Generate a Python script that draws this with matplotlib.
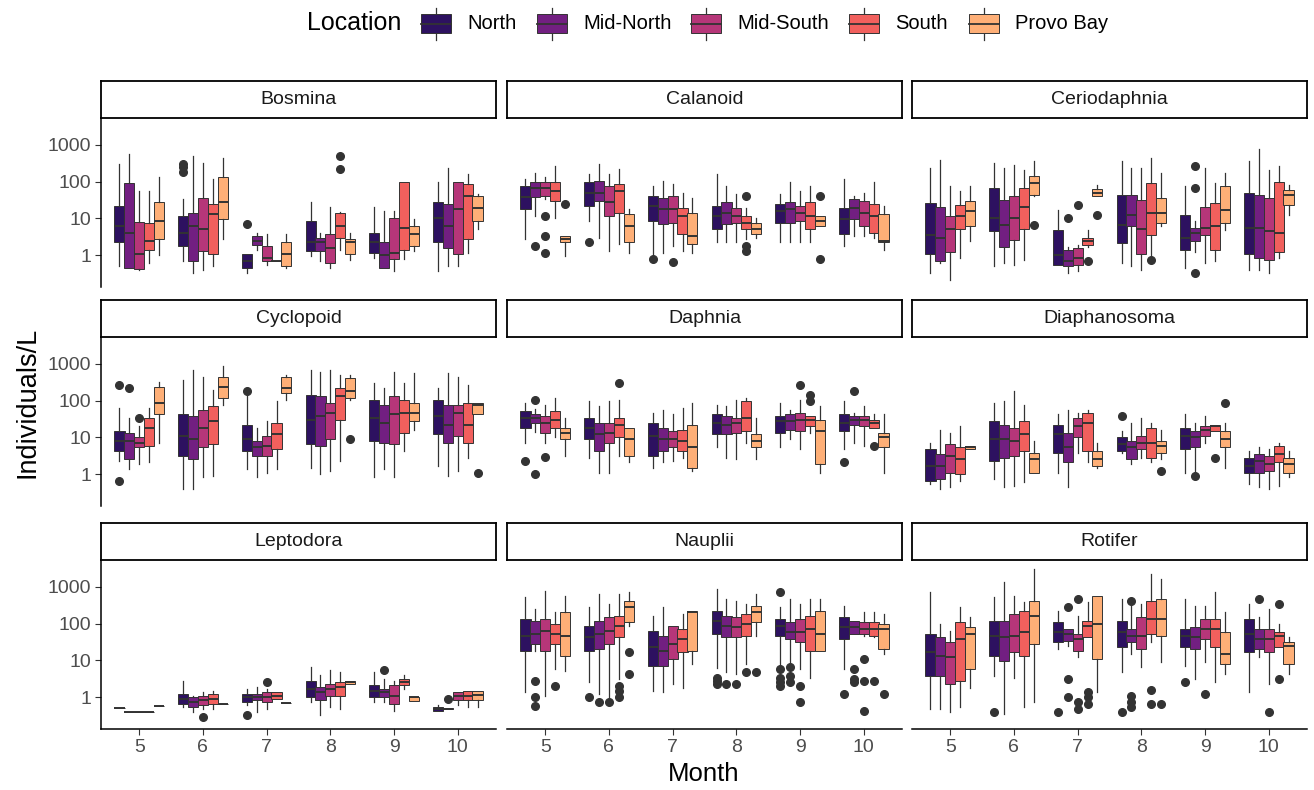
import matplotlib
matplotlib.use("Agg")
import matplotlib.pyplot as plt
from matplotlib.patches import Rectangle

plt.rcParams["font.family"] = ["Liberation Sans", "DejaVu Sans"]

MONTHS = [5, 6, 7, 8, 9, 10]
LOCATIONS = ["North", "Mid-North", "Mid-South", "South", "Provo Bay"]
COLORS = ["#2D1160", "#721F81", "#B63679", "#F1605D", "#FEAF77"]

# each month: one (lower whisker, q1, median, q3, upper whisker) per location
BOSMINA = [
    [(0.5, 2.2, 6, 22, 300), (0.45, 0.45, 4, 90, 550), (0.4, 0.43, 1.1, 8, 55), (0.6, 1.4, 2.4, 7.5, 55), (1, 2.7, 8.5, 28, 130)],
    [(0.7, 1.8, 4, 11.5, 33), (0.33, 0.7, 6, 14, 500), (0.4, 1.3, 5, 36, 330), (0.5, 1.05, 13, 24, 115), (2.7, 9.4, 27, 130, 450)],
    [(0.33, 0.45, 0.7, 1.05, 1.05), (1.4, 1.9, 2.4, 3.3, 4.1), (0.55, 0.7, 0.85, 1.8, 3.7), (0.7, 0.7, 0.7, 0.7, 0.7), (0.45, 0.5, 1.05, 2.2, 3.7)],
    [(0.95, 1.3, 2.2, 8.5, 27), (0.7, 1.3, 2.2, 3, 4), (0.45, 0.6, 1.6, 3.7, 20), (1.4, 3, 6, 14, 15), (0.75, 1.05, 2.2, 2.7, 4)],
    [(0.85, 1.15, 2.2, 4, 20), (0.45, 0.45, 1, 2.2, 16), (0.37, 0.76, 1.15, 10.4, 16), (0.76, 1.4, 5.5, 100, 100), (1.3, 1.75, 3.7, 6, 9.4)],
    [(0.37, 2.2, 10, 27, 95), (0.5, 1.6, 6, 24, 240), (0.5, 1.05, 17.5, 100, 100), (1.15, 2.7, 40, 85, 160), (5, 8.5, 19.5, 40, 45)],
]
BOSMINA_OUT = [(1, 0, 300), (1, 0, 250), (1, 0, 180), (2, 0, 6.8), (3, 3, 500), (3, 3, 215)]

CALANOID = [
    [(2.7, 17.6, 37, 76, 115), (11.6, 37, 68, 95, 175), (33, 40, 68, 95, 130), (10.4, 30, 55, 95, 265), (0.95, 2.2, 2.7, 3.3, 3.3)],
    [(8.5, 21.6, 50, 95, 160), (3, 30, 50, 105, 300), (1.3, 11.6, 27, 76, 160), (2, 14.3, 55, 85, 215), (1.15, 2.2, 6, 13, 17.6)],
    [(1.05, 8.5, 21.6, 40, 76), (1.15, 7, 17.6, 36, 105), (1.75, 7.7, 17.6, 40, 85), (1.3, 3.7, 11.6, 19.5, 50), (1.15, 2, 3.3, 14.3, 36)],
    [(2.2, 5, 11.6, 21.6, 160), (2.2, 7, 14.3, 27, 76), (2.2, 7.7, 11.6, 19.5, 45), (2.7, 5, 7.7, 11.6, 19.5), (3, 3.7, 5, 7.7, 10.4)],
    [(2.2, 7.7, 16, 24, 45), (2.2, 7.7, 17.6, 27, 95), (2.2, 8.5, 14.3, 21.6, 55), (2.2, 5, 11.6, 27, 76), (6, 6, 8.5, 11.6, 11.6)],
    [(1.75, 3.7, 9.4, 19.5, 115), (3.3, 9.4, 19.5, 33, 40), (3.3, 6, 14.3, 30, 50), (3, 4, 11.6, 24, 95), (1.4, 2.2, 2.4, 13, 21.6)],
]
CALANOID_OUT = [(0, 1, 1.75), (0, 2, 11.6), (0, 2, 3.3), (0, 2, 1.15), (0, 4, 24), (1, 0, 2.2), (2, 0, 0.76),
                (2, 2, 0.65), (3, 3, 40), (3, 3, 1.75), (3, 3, 1.3), (4, 4, 40), (4, 4, 0.76)]

CERIODAPHNIA = [
    [(0.32, 1.1, 3.6, 26, 235), (0.6, 0.67, 2.9, 21, 400), (0.21, 1.25, 5, 11.3, 74), (0.83, 5, 11.3, 23.6, 55), (2.4, 6, 15.5, 29, 74)],
    [(0.5, 4.4, 10.2, 67, 320), (0.6, 1.7, 6.7, 32, 235), (0.55, 2.6, 10.2, 40, 290), (0.75, 5, 21, 67, 210), (40, 44, 92, 140, 360)],
    [(0.55, 0.55, 1, 4.9, 17), (0.32, 0.5, 0.67, 1.4, 1.7), (0.36, 0.55, 0.83, 1.55, 1.9), (1.7, 1.9, 2.4, 2.9, 4.9), (40, 40, 49, 64, 83)],
    [(0.6, 2.1, 6.7, 44, 360), (0.5, 6, 12.6, 44, 235), (0.4, 1.1, 5, 32, 235), (1, 3.6, 14, 92, 440), (6, 7.5, 14, 36, 170)],
    [(0.44, 1.4, 2.9, 12.6, 74), (1.25, 2.4, 4, 5.5, 8.3), (0.6, 3.6, 5.5, 21, 235), (0.67, 1.4, 6, 26, 92), (4.9, 7.5, 17, 74, 170)],
    [(0.4, 1.1, 5.5, 49, 360), (0.4, 0.83, 5.5, 44, 750), (0.32, 0.75, 4.4, 36, 210), (0.83, 1.25, 4, 100, 260), (12.6, 23.6, 44, 60, 83)],
]
CERIODAPHNIA_OUT = [(1, 4, 6.7), (2, 1, 10), (2, 2, 23), (2, 3, 0.67), (2, 4, 12.6), (3, 3, 0.75),
                    (4, 1, 260), (4, 1, 67), (4, 1, 0.32)]

CYCLOPOID = [
    [(2.3, 4.3, 8, 15, 63), (1.4, 2.5, 8, 13.4, 34), (1.9, 5.3, 7.2, 10, 20), (2.1, 5.8, 18, 34, 63), (7.2, 42, 87, 240, 330)],
    [(0.39, 3.1, 10.8, 42, 370), (0.39, 2.5, 8.8, 38, 690), (0.81, 5.3, 18, 57, 450), (0.9, 6.5, 27, 70, 200), (78, 118, 240, 450, 850)],
    [(1.4, 4.3, 8.8, 22, 145), (0.81, 3.1, 5.3, 8, 18), (1.1, 3.1, 5.8, 11, 27), (1.4, 4.7, 12, 25, 96), (105, 160, 220, 450, 500)],
    [(1.5, 6.5, 30, 145, 690), (1, 5.8, 38, 130, 620), (1.2, 8.8, 46, 87, 690), (2.3, 30, 130, 220, 500), (105, 118, 180, 410, 500)],
    [(0.81, 8, 34, 105, 300), (1.4, 7.2, 25, 78, 220), (0.81, 6.5, 42, 130, 620), (4.3, 13.4, 46, 105, 300), (16, 27, 46, 87, 560)],
    [(1.7, 12, 38, 105, 220), (0.9, 7.2, 22, 78, 560), (1.2, 10.8, 46, 78, 450), (2.8, 7.2, 22, 87, 270), (42, 42, 78, 87, 87)],
]
CYCLOPOID_OUT = [(0, 0, 270), (0, 0, 0.66), (0, 1, 220), (0, 2, 34), (2, 0, 180), (3, 4, 8.8), (5, 4, 1.1)]

DAPHNIA = [
    [(7.2, 18, 34, 51, 87), (14, 25, 34, 42, 60), (7.2, 13.4, 25, 38, 78), (10, 18, 30, 51, 118), (3.1, 8.8, 13.4, 18, 34)],
    [(2.8, 8.8, 18, 34, 96), (1.1, 4.3, 12, 25, 70), (1.1, 7.2, 13.4, 25, 96), (3.1, 10, 22, 34, 105), (2.1, 3.1, 8.8, 18, 18)],
    [(1.5, 3.1, 10.8, 25, 46), (2.1, 4.3, 8.8, 18, 57), (2.3, 5.3, 8.8, 15, 42), (2.8, 4.3, 8, 16, 63), (1.2, 1.5, 5.3, 22, 87)],
    [(5.3, 12, 25, 42, 78), (2.8, 12, 22, 38, 70), (2.5, 13.4, 25, 34, 105), (7.2, 15, 34, 96, 118), (2.5, 5.3, 8, 12, 34)],
    [(5.3, 13.4, 27, 38, 87), (8.8, 16, 27, 42, 57), (4.7, 15, 30, 46, 105), (13.4, 20, 30, 38, 38), (1.1, 1.9, 15, 30, 70)],
    [(4.7, 15, 25, 42, 96), (7.2, 22, 30, 38, 46), (5.8, 20, 30, 38, 70), (18, 18, 25, 30, 42), (1.1, 5.3, 10, 13.4, 42)],
]
DAPHNIA_OUT = [(0, 0, 2.3), (0, 1, 105), (0, 1, 1.0), (0, 2, 3.0), (1, 3, 300), (4, 2, 270), (4, 3, 145),
               (4, 3, 96), (5, 0, 2.1), (5, 1, 180), (5, 3, 5.8)]

DIAPHANOSOMA = [
    [(0.54, 0.66, 1.7, 4.7, 7.2), (0.39, 0.73, 1.7, 3.5, 16), (0.44, 1.1, 3.1, 6.5, 13.4), (0.66, 1, 2.5, 5.3, 20), (4.7, 4.7, 5.3, 5.8, 5.8)],
    [(0.73, 2.3, 8.8, 27, 87), (0.44, 2.8, 8.8, 22, 96), (0.48, 3.1, 8, 18, 180), (0.6, 4.3, 12, 27, 78), (1.1, 1.1, 2.5, 3.8, 8)],
    [(1.1, 3.8, 12, 22, 42), (0.44, 2.1, 5.3, 13.4, 57), (3.8, 10, 20, 34, 46), (2.1, 4.3, 25, 46, 57), (1.5, 1.7, 2.5, 4.3, 7.2)],
    [(3.8, 4.3, 6.5, 10, 15), (1.9, 2.5, 5.3, 8, 25), (2.8, 4.7, 7.2, 10.8, 34), (2.1, 2.8, 7.2, 18, 25), (2.5, 3.8, 5.8, 8, 16)],
    [(1.1, 4.7, 10.8, 18, 42), (1.1, 5.3, 10, 15, 25), (7.2, 10.8, 16, 20, 38), (15, 15, 20, 22, 22), (1.5, 5.3, 8.8, 15, 25)],
    [(0.54, 1.1, 1.7, 2.8, 4.3), (0.44, 1.1, 2.3, 3.5, 5.3), (0.39, 1.2, 1.9, 3.1, 4.7), (0.48, 2.1, 3.5, 5.8, 7.2), (0.81, 1.1, 1.9, 2.8, 4.3)],
]
DIAPHANOSOMA_OUT = [(3, 0, 38), (3, 4, 1.2), (4, 1, 0.9), (4, 3, 2.8), (4, 4, 87)]

LEPTODORA = [
    [(0.5, 0.5, 0.5, 0.5, 0.5), (0.39, 0.39, 0.39, 0.39, 0.39), (0.39, 0.39, 0.39, 0.39, 0.39), (0.39, 0.39, 0.39, 0.39, 0.39), (0.57, 0.57, 0.57, 0.57, 0.57)],
    [(0.53, 0.66, 0.9, 1.2, 2.8), (0.39, 0.53, 0.73, 1.0, 1.1), (0.48, 0.6, 0.81, 1.1, 1.4), (0.48, 0.66, 0.9, 1.2, 1.5), (0.66, 0.66, 0.66, 0.66, 0.66)],
    [(0.6, 0.73, 1, 1.2, 1.7), (0.39, 0.81, 1, 1.2, 1.9), (0.48, 0.73, 1, 1.4, 1.7), (0.9, 0.9, 1.1, 1.4, 1.4), (0.7, 0.7, 0.7, 0.7, 0.7)],
    [(0.73, 1, 1.7, 2.8, 6.6), (0.32, 0.81, 1.4, 1.9, 3.9), (0.53, 1.1, 1.7, 2.3, 5.3), (0.48, 1.1, 1.9, 2.6, 4.8), (2.3, 2.3, 2.6, 2.7, 2.7)],
    [(0.73, 1, 1.5, 2.1, 4.8), (0.73, 1, 1.4, 1.7, 3.2), (0.43, 0.66, 1.1, 2.1, 2.8), (1.7, 2.1, 2.6, 3.2, 3.9), (0.8, 0.8, 1.0, 1.0, 1.0)],
    [(0.43, 0.43, 0.48, 0.53, 0.6), (0.48, 0.48, 0.48, 0.5, 0.5), (0.6, 0.81, 1.1, 1.4, 1.4), (0.53, 0.81, 1.1, 1.5, 1.5), (0.53, 0.81, 1.15, 1.5, 1.5)],
]
LEPTODORA_OUT = [(1, 2, 0.28), (2, 0, 0.32), (2, 2, 2.6), (4, 1, 5.3), (5, 1, 0.9)]

NAUPLII = [
    [(1.34, 18.4, 47, 134, 520), (18, 28, 52, 120, 250), (1.1, 18.4, 64, 134, 790), (5.8, 28, 52, 98, 205), (5.2, 13.4, 47, 205, 580)],
    [(2.5, 18.4, 42, 88, 280), (1.2, 20, 52, 120, 640), (0.8, 28, 64, 148, 340), (3.1, 42, 88, 165, 640), (88, 108, 280, 420, 710)],
    [(1.5, 7.2, 22.6, 64, 165), (1.34, 7.2, 18.4, 47, 280), (2.3, 11, 28, 88, 88), (1.8, 16.5, 38, 72, 180), (7.9, 18.4, 205, 225, 225)],
    [(6, 52, 120, 225, 880), (4.7, 42, 88, 165, 470), (4.2, 42, 80, 148, 420), (7.9, 47, 98, 180, 340), (47, 108, 205, 310, 640)],
    [(7.2, 47, 88, 134, 280), (7.9, 38, 58, 108, 470), (5.8, 31, 58, 134, 340), (3.4, 18.4, 72, 165, 470), (18.4, 18.4, 52, 225, 470)],
    [(5.8, 38, 80, 148, 310), (52, 52, 80, 120, 120), (47, 52, 72, 108, 205), (42, 47, 72, 108, 205), (15, 20, 72, 98, 180)],
]
NAUPLII_OUT = [(0, 1, 2.8), (0, 1, 1), (0, 1, 0.58), (0, 3, 2), (1, 0, 1), (1, 1, 0.72), (1, 2, 0.72), (1, 3, 2),
               (1, 3, 1.5), (1, 3, 1.0), (1, 4, 16.5), (1, 4, 4.2), (3, 0, 3.4), (3, 0, 2.8), (3, 0, 2.2),
               (3, 1, 2.3), (3, 2, 2.3), (3, 3, 4.7), (3, 4, 4.7), (4, 0, 710), (4, 0, 5.8), (4, 0, 3.4),
               (4, 0, 2.5), (4, 0, 2), (4, 1, 6.4), (4, 1, 3.8), (4, 1, 2.5), (4, 2, 2), (4, 2, 0.72),
               (5, 0, 1.2), (5, 1, 5.8), (5, 1, 3.1), (5, 1, 2.5), (5, 2, 11), (5, 2, 2.8), (5, 2, 0.42),
               (5, 3, 2.8), (5, 4, 1.2)]

ROTIFER = [
    [(0.47, 3.8, 16.5, 52, 710), (0.47, 3.8, 13.4, 42, 98), (0.38, 2.3, 12, 31, 64), (0.52, 2.8, 38, 108, 280), (1.8, 5.8, 52, 80, 148)],
    [(3.8, 13.4, 47, 120, 520), (0.34, 9.8, 42, 120, 1340), (3.4, 16.5, 47, 180, 580), (0.52, 13.4, 58, 225, 380), (0.72, 28, 165, 420, 3100)],
    [(20, 31, 58, 108, 225), (25, 34, 52, 72, 72), (12, 18.4, 38, 52, 165), (42, 42, 88, 120, 380), (1.34, 10.8, 98, 580, 580)],
    [(4.7, 22.6, 58, 120, 470), (15, 31, 47, 72, 310), (6.4, 20, 47, 148, 340), (31, 52, 134, 420, 2250), (8.8, 47, 134, 470, 1650)],
    [(7.2, 22.6, 47, 72, 470), (3.1, 20, 42, 80, 310), (8.8, 38, 72, 134, 310), (2.5, 22.6, 72, 134, 710), (4.2, 8, 15, 58, 205)],
    [(1.34, 16.5, 52, 134, 340), (12, 20, 38, 72, 148), (2.3, 16.5, 38, 72, 250), (22.6, 22.6, 47, 58, 98), (4.2, 8, 25, 31, 42)],
]
ROTIFER_OUT = [(1, 0, 0.38), (2, 0, 0.38), (2, 1, 280), (2, 1, 3.1), (2, 1, 1), (2, 2, 470), (2, 2, 0.72),
               (2, 2, 0.47), (2, 3, 1.34), (2, 3, 1), (2, 3, 0.64), (3, 0, 0.38), (3, 1, 420), (3, 1, 1.1),
               (3, 1, 0.72), (3, 1, 0.52), (3, 3, 1.6), (3, 3, 0.64), (3, 4, 0.64), (4, 0, 2.5), (4, 2, 1.2),
               (5, 1, 470), (5, 2, 0.38), (5, 3, 340), (5, 3, 3.1)]

PANELS = [
    ("Bosmina", BOSMINA, BOSMINA_OUT),
    ("Calanoid", CALANOID, CALANOID_OUT),
    ("Ceriodaphnia", CERIODAPHNIA, CERIODAPHNIA_OUT),
    ("Cyclopoid", CYCLOPOID, CYCLOPOID_OUT),
    ("Daphnia", DAPHNIA, DAPHNIA_OUT),
    ("Diaphanosoma", DIAPHANOSOMA, DIAPHANOSOMA_OUT),
    ("Leptodora", LEPTODORA, LEPTODORA_OUT),
    ("Nauplii", NAUPLII, NAUPLII_OUT),
    ("Rotifer", ROTIFER, ROTIFER_OUT),
]

EDGE = "#333333"
TEXT = "#4D4D4D"
DODGE = 0.155
BOXW = 0.16

W, H = 1314, 790
fig = plt.figure(figsize=(W / 100, H / 100), dpi=100)


def px_axes(x, y, w, h):
    return fig.add_axes([x / W, 1 - (y + h) / H, w / W, h / H])


col_x = [101, 507, 912]
panel_w = 395
strip_y = [81, 300, 523]
strip_h = 37
panel_h = 169

for k, (name, stats, outs) in enumerate(PANELS):
    r, c = divmod(k, 3)
    ax = px_axes(col_x[c], strip_y[r] + strip_h, panel_w, panel_h)

    for j, loc in enumerate(LOCATIONS):
        boxes = []
        positions = []
        for i in range(len(MONTHS)):
            lo, q1, med, q3, hi = stats[i][j]
            fl = [v for (mi, lj, v) in outs if mi == i and lj == j]
            boxes.append(dict(whislo=lo, q1=q1, med=med, q3=q3, whishi=hi, fliers=fl))
            positions.append(i + 1 + (j - 2) * DODGE)
        ax.bxp(
            boxes,
            positions=positions,
            widths=BOXW,
            patch_artist=True,
            showcaps=False,
            boxprops=dict(facecolor=COLORS[j], edgecolor=EDGE, linewidth=0.7),
            whiskerprops=dict(color=EDGE, linewidth=0.9),
            medianprops=dict(color=EDGE, linewidth=1.4),
            flierprops=dict(marker="o", markerfacecolor=EDGE, markeredgecolor=EDGE, markersize=5.5),
        )

    ax.set_yscale("log")
    ax.set_ylim(0.135, 5400)
    ax.set_xlim(0.4, 6.6)
    ax.set_yticks([1, 10, 100, 1000])
    ax.set_yticklabels(["1", "10", "100", "1000"])
    ax.minorticks_off()
    ax.set_xticks(range(1, len(MONTHS) + 1))
    ax.set_xticklabels([str(m) for m in MONTHS])
    for side in ["top", "right"]:
        ax.spines[side].set_visible(False)
    ax.spines["left"].set_visible(c == 0)
    ax.spines["bottom"].set_visible(r == 2)
    ax.spines["left"].set_linewidth(1.1)
    ax.spines["bottom"].set_linewidth(1.1)
    ax.tick_params(axis="both", colors=EDGE, labelcolor=TEXT, labelsize=14, length=4, width=0.8, pad=3)
    if c != 0:
        ax.tick_params(axis="y", left=False, labelleft=False)
    if r != 2:
        ax.tick_params(axis="x", bottom=False, labelbottom=False)

    sax = px_axes(col_x[c], strip_y[r], panel_w, strip_h)
    sax.set_xticks([])
    sax.set_yticks([])
    for sp in sax.spines.values():
        sp.set_linewidth(1.3)
        sp.set_color("black")
    sax.text(0.5, 0.5, name, ha="center", va="center", fontsize=14, color="#1A1A1A", transform=sax.transAxes)

fig.text(28 / W, 1 - 402 / H, "Individuals/L", rotation=90, ha="center", va="center", fontsize=19.5, color="black")
fig.text(704 / W, 1 - 774 / H, "Month", ha="center", va="center", fontsize=18.5, color="black")

# legend along the top
lax = fig.add_axes([0, 0, 1, 1])
lax.set_xlim(0, W)
lax.set_ylim(H, 0)
lax.axis("off")
lax.text(307, 23.5, "Location", ha="left", va="center", fontsize=18, color="black")
key_x = [421, 537, 691, 849, 969]
for kx, loc, col in zip(key_x, LOCATIONS, COLORS):
    lax.plot([kx + 15, kx + 15], [8, 40], color=EDGE, lw=0.9, zorder=1)
    lax.add_patch(Rectangle((kx, 14), 30, 19, facecolor=col, edgecolor=EDGE, lw=0.7, zorder=2))
    lax.plot([kx, kx + 30], [23.5, 23.5], color=EDGE, lw=1.3, zorder=3)
    lax.text(kx + 46, 23.5, loc, ha="left", va="center", fontsize=14.5, color="black")

fig.savefig("out.png", dpi=100)
